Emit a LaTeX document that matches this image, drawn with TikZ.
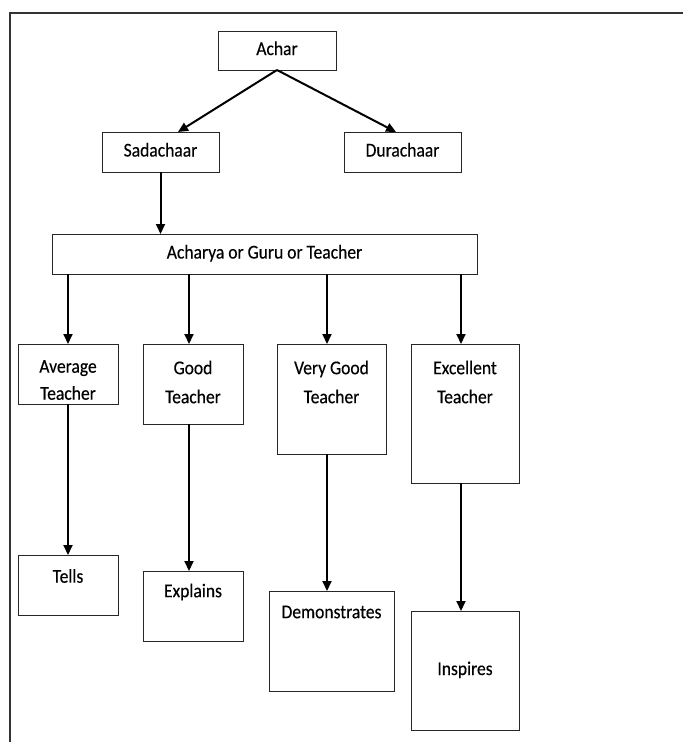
\documentclass[tikz,border=0pt]{standalone}
\usepackage{fontspec}
\setmainfont{Carlito}[FakeStretch=0.9, FakeBold=0.3]
\usetikzlibrary{arrows.meta}
\begin{document}
\begin{tikzpicture}[x=1pt,y=-1pt,
  box/.style={draw=black!85, line width=1pt, inner sep=0pt, outer sep=0pt, align=center,
    font=\fontsize{19.5}{29}\selectfont, text height=13pt, text depth=4pt},
  lbl/.style={inner sep=0pt, align=center, font=\fontsize{19.5}{29}\selectfont},
  lblb/.style={inner sep=0pt, align=center, font=\fontsize{19.5}{27}\selectfont},
  arr/.style={line width=2pt, -{Triangle[length=10pt,width=9pt]}},
  frameline/.style={line width=2pt, draw=black!80, line join=miter}]
\useasboundingbox (0,0) rectangle (683,742);
\draw[frameline] (683,13) -- (10,13) -- (10,742);

% boxes
\node[box, minimum width=118, minimum height=39] (achar) at (277,50.5) {Achar};
\node[box, minimum width=117, minimum height=40] (sada) at (160.5,152) {Sadachaar};
\node[box, minimum width=117, minimum height=40] (dura) at (402.5,152) {Durachaar};
\node[box, minimum width=425, minimum height=40] (acharya) at (264.5,254) {Acharya or Guru or Teacher};

\node[box, minimum width=100, minimum height=60] (avg) at (68,374) {};
\node[box, minimum width=100, minimum height=80] (good) at (193,384) {};
\node[box, minimum width=109, minimum height=110] (vgood) at (331.5,399) {};
\node[box, minimum width=108, minimum height=139] (exc) at (465,413.5) {};

\node[box, minimum width=100, minimum height=60] (tells) at (68,585) {};
\node[box, minimum width=100, minimum height=70] (expl) at (193,606) {};
\node[box, minimum width=125, minimum height=100] (demo) at (331.5,641) {};
\node[box, minimum width=108, minimum height=119] (insp) at (465,670.5) {Inspires};

% labels
\node[lblb] (avgt) at (68,380) {Average\\Teacher};
\node[lbl] (goodt) at (193,382) {Good\\Teacher};
\node[lbl] (vgoodt) at (331.5,382) {Very Good\\Teacher};
\node[lbl] (exct) at (465,382) {Excellent\\Teacher};
\node[lbl] (tellst) at (68,576) {Tells};
\node[lbl] (explt) at (193,592) {Explains};
\node[lbl] (demot) at (331.5,612) {Demonstrates};

% connector x positions
\coordinate (sx) at ([xshift=17.5]sada.north);
\coordinate (dx) at ([xshift=-6.5]dura.north);
\coordinate (gx) at ([xshift=-4]good.north);
\coordinate (vx) at ([xshift=-4.5]vgood.north);
\coordinate (ex) at ([xshift=-4]exc.north);

% connectors
\draw[arr] (achar.south) -- (sx);
\draw[arr] (achar.south) -- (dx);
\draw[arr] (sada.south) -- (sada.south |- acharya.north);
\draw[arr] (acharya.south -| avg.north) -- (avg.north);
\draw[arr] (gx |- acharya.south) -- (gx);
\draw[arr] (vx |- acharya.south) -- (vx);
\draw[arr] (ex |- acharya.south) -- (ex);
\draw[arr] (avg.south) -- (tells.north);
\draw[arr] (gx |- good.south) -- (gx |- expl.north);
\draw[arr] (vx |- vgood.south) -- (vx |- demo.north);
\draw[arr] (ex |- exc.south) -- (ex |- insp.north);
\end{tikzpicture}
\end{document}
